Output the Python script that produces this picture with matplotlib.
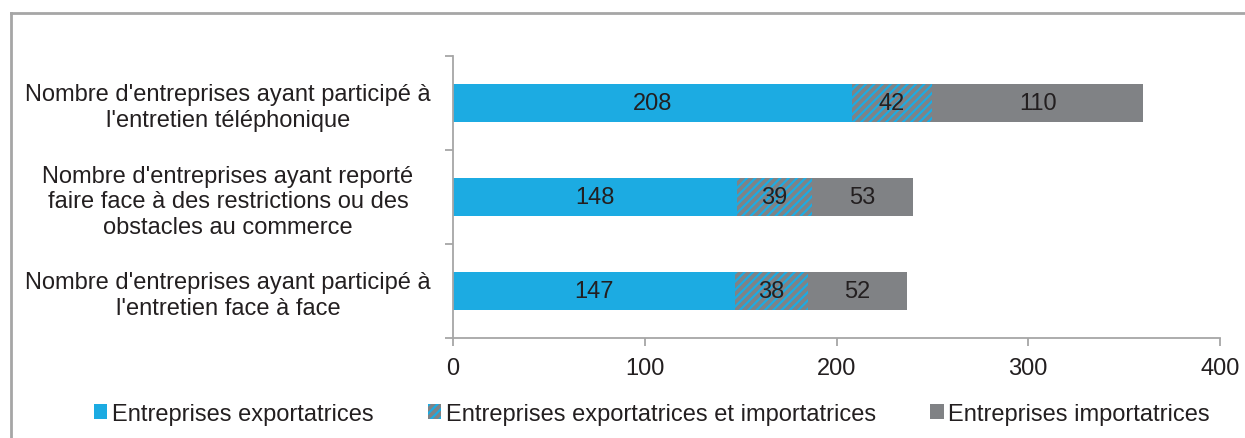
import matplotlib.pyplot as plt
import numpy as np
from matplotlib.lines import Line2D

plt.rcParams['font.family'] = ['Liberation Sans', 'DejaVu Sans']
plt.rcParams['hatch.linewidth'] = 1.6

categories = [
    "Nombre d'entreprises ayant participé à\nl'entretien téléphonique",
    "Nombre d'entreprises ayant reporté\nfaire face à des restrictions ou des\nobstacles au commerce",
    "Nombre d'entreprises ayant participé à\nl'entretien face à face",
]
series_names = [
    "Entreprises exportatrices",
    "Entreprises exportatrices et importatrices",
    "Entreprises importatrices",
]
exportatrices = [208, 148, 147]
export_import = [42, 39, 38]
importatrices = [110, 53, 52]
xticks = [0, 100, 200, 300, 400]

blue = '#1CABE2'
grey = '#808285'
axis_col = '#A6A6A6'
txt = '#231F20'
fs = 17

fig = plt.figure(figsize=(12.45, 4.39), dpi=100)
ax = fig.add_axes([453 / 1245, 1 - 339 / 439, (1220 - 453) / 1245, (339 - 57) / 439])

y = np.arange(len(categories))
h = 0.4
b1 = ax.barh(y, exportatrices, height=h, color=blue, label=series_names[0])
left2 = np.array(exportatrices)
b2 = ax.barh(y, export_import, height=h, left=left2, facecolor=grey,
             edgecolor=blue, linewidth=0, hatch='////', label=series_names[1])
left3 = left2 + np.array(export_import)
b3 = ax.barh(y, importatrices, height=h, left=left3, color=grey, label=series_names[2])

for cont in (b1, b2, b3):
    ax.bar_label(cont, label_type='center', fontsize=fs, color=txt)

ax.set_xlim(0, 400)
ax.set_ylim(len(categories) - 0.5, -0.5)
ax.set_xticks(xticks)
ax.set_xticklabels([str(v) for v in xticks], fontsize=fs, color=txt)

ax.set_yticks(np.arange(-0.5, len(categories), 1.0))
ax.set_yticklabels([])
ax.set_yticks(y, minor=True)
ax.set_yticklabels(categories, minor=True, fontsize=fs, color=txt,
                   ha='center', multialignment='center', linespacing=1.2)
ax.tick_params(axis='y', which='minor', length=0, pad=(453 - 228) * 0.72)
ax.tick_params(axis='y', which='major', length=6, color=axis_col, width=1.3)
ax.tick_params(axis='x', length=6, color=axis_col, width=1.3, pad=8)

for s in ['top', 'right']:
    ax.spines[s].set_visible(False)
for s in ['left', 'bottom']:
    ax.spines[s].set_color(axis_col)
    ax.spines[s].set_linewidth(1.3)

leg = fig.legend(handles=[b1, b2, b3], loc='center', bbox_to_anchor=(0.5237, 1 - 415 / 439),
                 ncol=3, frameon=False, fontsize=fs, handlelength=0.56,
                 handleheight=0.56, handletextpad=0.2, columnspacing=2.3,
                 borderaxespad=0, borderpad=0)
for t in leg.get_texts():
    t.set_color(txt)

# outer frame
fig.add_artist(Line2D([10.5 / 1245, 1], [1 - 13.5 / 439] * 2, color='#A6A6A6', lw=2,
                      transform=fig.transFigure))
fig.add_artist(Line2D([10.5 / 1245] * 2, [0, 1 - 13.5 / 439], color='#A6A6A6', lw=2,
                      transform=fig.transFigure))

fig.savefig('out.png', dpi=100)
